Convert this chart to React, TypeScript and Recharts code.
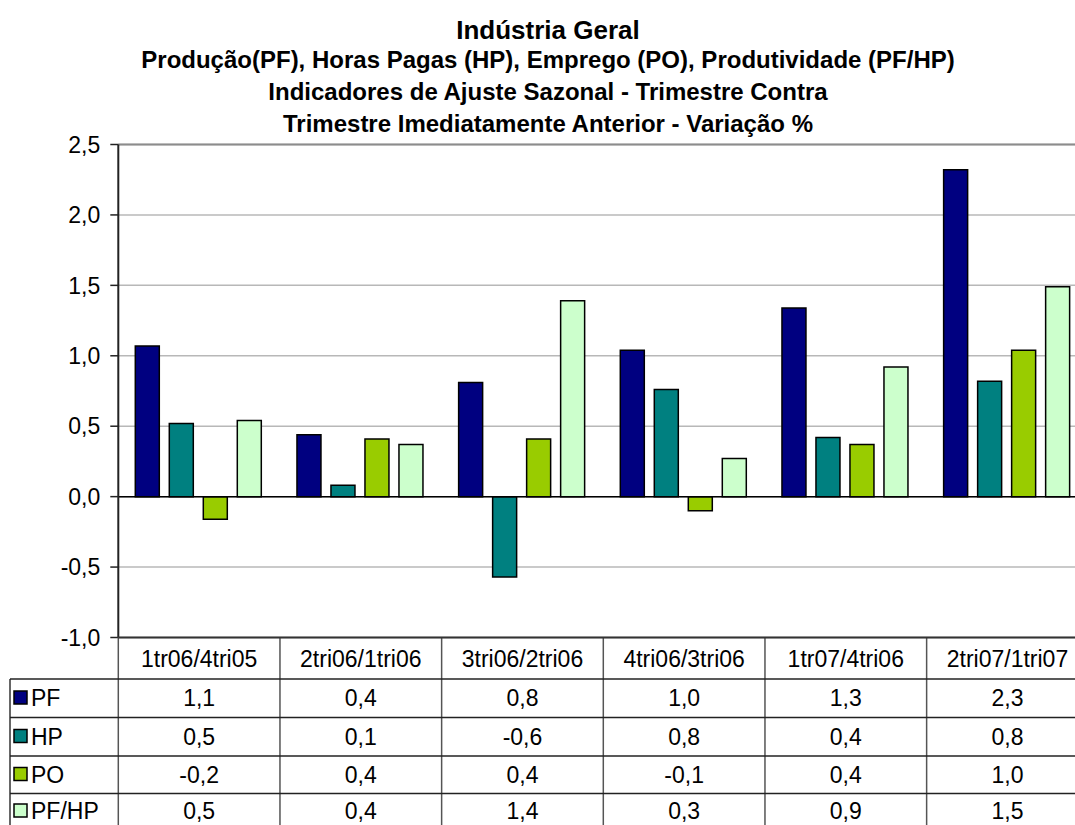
import React from "react";
import {
  Bar,
  BarChart,
  CartesianGrid,
  ReferenceLine,
  XAxis,
  YAxis,
} from "recharts";

const categories = [
  "1tr06/4tri05",
  "2tri06/1tri06",
  "3tri06/2tri06",
  "4tri06/3tri06",
  "1tr07/4tri06",
  "2tri07/1tri07",
];
const pf = [1.07, 0.44, 0.81, 1.04, 1.34, 2.32];
const hp = [0.52, 0.08, -0.57, 0.76, 0.42, 0.82];
const po = [-0.16, 0.41, 0.41, -0.1, 0.37, 1.04];
const pfhp = [0.54, 0.37, 1.39, 0.27, 0.92, 1.49];
const yTicks = [-1, -0.5, 0, 0.5, 1, 1.5, 2, 2.5];

const series = [
  { key: "PF", values: pf, color: "#000080" },
  { key: "HP", values: hp, color: "#008080" },
  { key: "PO", values: po, color: "#99CC00" },
  { key: "PF/HP", values: pfhp, color: "#CCFFCC" },
];

const data = categories.map((cat, i) => ({
  cat,
  PF: pf[i],
  HP: hp[i],
  PO: po[i],
  "PF/HP": pfhp[i],
}));

const FONT = "'Liberation Sans', Arial, sans-serif";
const PLOT_LEFT = 118.3;
const PLOT_RIGHT = 1088.3;
const PLOT_TOP = 144.5;
const PLOT_BOTTOM = 637.5;
const CHART_W = 1100;
const CHART_H = 650;

const fmt = (v: number) => v.toFixed(1).replace(".", ",");

function DataTable() {
  const colW = (PLOT_RIGHT - PLOT_LEFT) / categories.length;
  const rows = [679, 717.5, 756, 793.5];
  const centers = [698, 736.5, 774.5, 811];
  const headTop = PLOT_BOTTOM;
  return (
    <svg
      width={1075}
      height={825}
      style={{ position: "absolute", left: 0, top: 0, pointerEvents: "none" }}
    >
      {categories.map((_, i) => (
        <line
          key={"v" + i}
          x1={PLOT_LEFT + i * colW}
          x2={PLOT_LEFT + i * colW}
          y1={headTop}
          y2={833}
          stroke="#555"
          strokeWidth={1.5}
        />
      ))}
      <line x1={10} x2={10} y1={rows[0]} y2={833} stroke="#333" strokeWidth={1.5} />
      <line x1={PLOT_LEFT} x2={PLOT_RIGHT} y1={headTop} y2={headTop} stroke="#333" strokeWidth={2} />
      {rows.map((y) => (
        <line key={"h" + y} x1={10} x2={PLOT_RIGHT} y1={y} y2={y} stroke="#222" strokeWidth={1.5} />
      ))}
      {categories.map((c, i) => (
        <text
          key={"c" + c}
          x={PLOT_LEFT + (i + 0.5) * colW}
          y={(headTop + rows[0]) / 2}
          dy="0.36em"
          textAnchor="middle"
          fontFamily={FONT}
          fontSize={23}
        >
          {c}
        </text>
      ))}
      {series.map((s, r) => {
        const cy = centers[r];
        return (
          <g key={s.key}>
            <rect x={14} y={cy - 7} width={13} height={13} fill={s.color} stroke="#000" strokeWidth={1.5} />
            <text x={31} y={cy} dy="0.36em" fontFamily={FONT} fontSize={23}>
              {s.key}
            </text>
            {s.values.map((v, i) => (
              <text
                key={i}
                x={PLOT_LEFT + (i + 0.5) * colW}
                y={cy}
                dy="0.36em"
                textAnchor="middle"
                fontFamily={FONT}
                fontSize={23}
              >
                {fmt(v)}
              </text>
            ))}
          </g>
        );
      })}
    </svg>
  );
}

const titleLines = [
  "Produção(PF), Horas Pagas (HP), Emprego (PO), Produtividade (PF/HP)",
  "Indicadores de Ajuste Sazonal - Trimestre Contra",
  "Trimestre Imediatamente Anterior - Variação %",
];

export default function App() {
  return (
    <div
      style={{
        position: "absolute",
        left: 0,
        top: 0,
        width: 1075,
        height: 825,
        overflow: "hidden",
        background: "#fff",
        fontFamily: FONT,
      }}
    >
      <div
        style={{
          position: "absolute",
          left: 0,
          width: 1096,
          top: 15,
          textAlign: "center",
          fontWeight: "bold",
          fontSize: 26,
          lineHeight: "30px",
        }}
      >
        Indústria Geral
      </div>
      {titleLines.map((t, i) => (
        <div
          key={t}
          style={{
            position: "absolute",
            left: 0,
            width: 1096,
            top: 45 + i * 32,
            textAlign: "center",
            fontWeight: "bold",
            fontSize: 24,
            lineHeight: "30px",
          }}
        >
          {t}
        </div>
      ))}
      <div style={{ position: "absolute", left: 0, top: 0 }}>
        <BarChart
          width={CHART_W}
          height={CHART_H}
          data={data}
          margin={{
            top: PLOT_TOP,
            right: CHART_W - PLOT_RIGHT,
            left: 0,
            bottom: CHART_H - PLOT_BOTTOM,
          }}
          barCategoryGap={17}
          barGap={10}
        >
          <CartesianGrid vertical={false} stroke="#b8b8b8" strokeWidth={1.5} />
          <XAxis dataKey="cat" hide />
          <YAxis
            width={PLOT_LEFT}
            domain={[-1, 2.5]}
            ticks={yTicks}
            interval={0}
            tickFormatter={fmt}
            axisLine={{ stroke: "#222", strokeWidth: 2 }}
            tickLine={{ stroke: "#222", strokeWidth: 1.5 }}
            tickSize={8}
            tickMargin={10}
            tick={{ fill: "#000", fontSize: 23, fontFamily: FONT }}
          />
          <ReferenceLine y={2.5} stroke="#8c8c8c" strokeWidth={2} />
          <ReferenceLine y={0} stroke="#000" strokeWidth={1.5} />
          {series.map((s) => (
            <Bar
              key={s.key}
              dataKey={s.key}
              fill={s.color}
              stroke="#000"
              strokeWidth={1.5}
              isAnimationActive={false}
            />
          ))}
        </BarChart>
      </div>
      <DataTable />
    </div>
  );
}
